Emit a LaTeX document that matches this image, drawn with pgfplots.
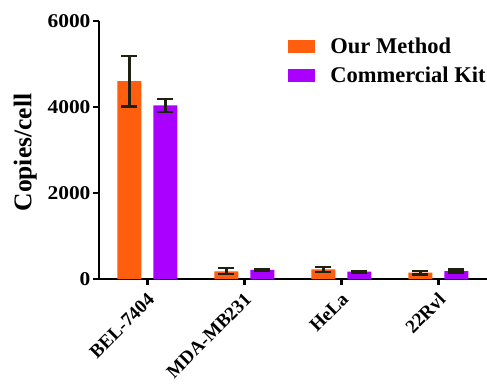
\documentclass[border=0pt]{standalone}
\usepackage{pgfplots}
\pgfplotsset{compat=1.18}
\usepackage{fontspec}
\setmainfont{Liberation Serif}
\newfontfamily\tickfont[FakeStretch=1.1]{Liberation Serif}
\definecolor{orng}{HTML}{FF5E0E}
\definecolor{purp}{HTML}{AA00FF}
\definecolor{errc}{HTML}{1E2010}
\begin{document}
\begin{tikzpicture}
\path[use as bounding box] (-99pt,-107pt) rectangle (388pt,279pt);
\begin{axis}[at={(0,0)}, anchor=south west, scale only axis,
  width=388pt, height=258pt,
  ymin=0, ymax=6000, xmin=-0.5, xmax=3.5,
  axis x line*=bottom, axis y line*=left,
  axis line style={line width=2.2pt},
  ytick={0,2000,4000,6000}, xtick={0,1,2,3},
  xticklabels={BEL-7404,MDA-MB231,HeLa,22Rvl},
  tick align=outside, major tick length=6pt,
  tick style={line width=2.2pt, black},
  /pgf/number format/assume math mode=true,
  /pgf/number format/1000 sep={},
  scaled y ticks=false,
  yticklabel style={font=\tickfont\bfseries\fontsize{19.5}{20}\selectfont, xshift=1pt},
  xticklabel style={xshift=6pt, yshift=-9pt, rotate=45, anchor=east, font=\bfseries\fontsize{19}{19}\selectfont},
  ylabel={Copies/cell},
  ylabel style={font=\bfseries\fontsize{25.5}{26}\selectfont, at={(axis description cs:-0.19,0.49)}, anchor=center},
  ybar=12pt, bar width=24pt,
  legend style={draw=none, fill=none, at={(0.48,0.95)}, anchor=north west,
    font=\bfseries\fontsize{22.5}{23}\selectfont, row sep=8pt},
  legend cell align=left,
  every error bar/.append style={line width=3pt},
]
\addplot+[fill=orng, draw=none,
  legend image code/.code={\fill[orng] (0pt,-6.5pt) rectangle (27pt,6.5pt); \path (40pt,0pt);},
  error bars/.cd, y dir=both, y explicit,
  error bar style={line width=3pt, draw=errc},
  error mark options={rotate=90, mark size=8pt, line width=2.4pt, draw=errc}]
  coordinates {(0,4600) +- (0,590) (1,180) +- (0,70) (2,225) +- (0,60) (3,147) +- (0,40)};
\addlegendentry{Our Method}
\addplot+[fill=purp, draw=none,
  legend image code/.code={\fill[purp] (0pt,-6.5pt) rectangle (27pt,6.5pt); \path (40pt,0pt);},
  error bars/.cd, y dir=both, y explicit,
  error bar style={line width=3pt, draw=errc},
  error mark options={rotate=90, mark size=8pt, line width=2.4pt, draw=errc}]
  coordinates {(0,4040) +- (0,150) (1,210) +- (0,25) (2,170) +- (0,20) (3,186) +- (0,35)};
\addlegendentry{Commercial Kit}
\end{axis}
\end{tikzpicture}
\end{document}
